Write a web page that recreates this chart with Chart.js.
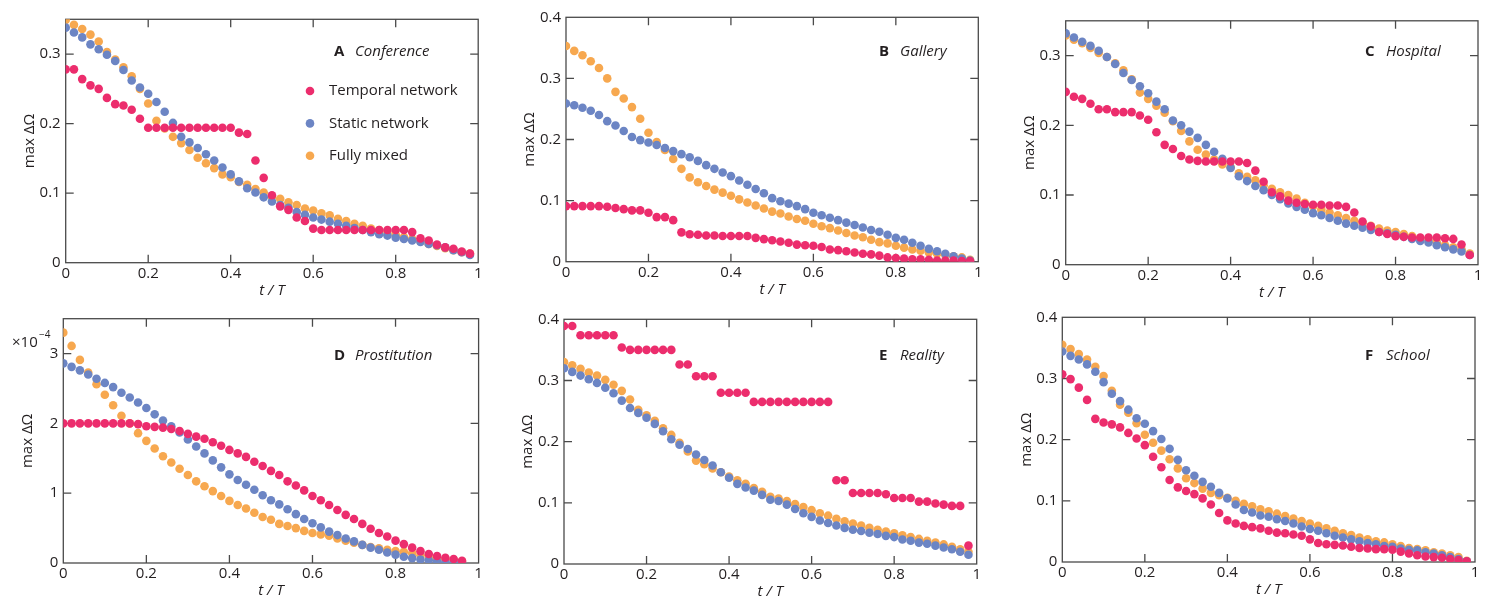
<!DOCTYPE html>
<html>
<head>
<meta charset="utf-8">
<script src="https://cdn.jsdelivr.net/npm/chart.js@4.4.1/dist/chart.umd.min.js"></script>
<style>
  html, body { margin: 0; padding: 0; background: #fff; }
  #page { position: relative; width: 1486px; height: 598px; overflow: hidden; }
  .panel { position: absolute; }
</style>
</head>
<body>
<div id="page"></div>
<script>
// t / T sample points
var tGrid = [0, 0.02, 0.04, 0.06, 0.08, 0.1, 0.12, 0.14, 0.16, 0.18,
  0.2, 0.22, 0.24, 0.26, 0.28, 0.3, 0.32, 0.34, 0.36, 0.38,
  0.4, 0.42, 0.44, 0.46, 0.48, 0.5, 0.52, 0.54, 0.56, 0.58,
  0.6, 0.62, 0.64, 0.66, 0.68, 0.7, 0.72, 0.74, 0.76, 0.78,
  0.8, 0.82, 0.84, 0.86, 0.88, 0.9, 0.92, 0.94, 0.96, 0.98];

var seriesNames = ["Temporal network", "Static network", "Fully mixed"];
var seriesColors = ["#ec2d6d", "#6c85c4", "#f7a84f"];

// A Conference
var conferenceTemporal = [.278, .278, .264, .255, .250, .237, .228, .226, .220, .207,
  .194, .194, .194, .194, .194, .194, .194, .194, .194, .194,
  .194, .187, .185, .147, .122, .097, .081, .076, .065, .060,
  .049, .047, .047, .047, .047, .047, .047, .047, .047, .047,
  .047, .047, .044, .035, .032, .026, .022, .020, .016, .013];
var conferenceStatic = [.338, .331, .324, .314, .307, .299, .290, .277, .262, .252,
  .243, .231, .217, .201, .181, .173, .165, .156, .147, .137,
  .127, .117, .107, .101, .094, .088, .083, .079, .073, .069,
  .065, .062, .059, .056, .053, .050, .047, .044, .041, .039,
  .036, .034, .032, .030, .027, .025, .022, .018, .015, .011];
var conferenceMixed = [.349, .342, .336, .328, .318, .303, .292, .281, .268, .250,
  .229, .204, .193, .181, .172, .162, .151, .143, .136, .127,
  .123, .116, .112, .106, .101, .095, .092, .087, .083, .078,
  .075, .071, .068, .063, .060, .056, .053, .049, .047, .043,
  .040, .037, .034, .031, .027, .024, .021, .018, .015, .013];

// B Gallery
var galleryTemporal = [.091, .091, .091, .091, .091, .090, .088, .086, .084, .084,
  .080, .073, .073, .068, .048, .045, .044, .043, .043, .042,
  .042, .042, .042, .039, .037, .035, .033, .031, .028, .027,
  .026, .024, .020, .019, .017, .015, .013, .012, .010, .007,
  .006, .005, .004, .004, .003, .002, .002, .002, .001, .001];
var galleryStatic = [.259, .256, .252, .247, .240, .230, .223, .214, .204, .199,
  .195, .191, .186, .181, .176, .171, .165, .158, .152, .146,
  .140, .133, .126, .119, .112, .104, .099, .095, .091, .086,
  .080, .076, .072, .068, .064, .060, .056, .052, .049, .044,
  .039, .036, .031, .026, .021, .017, .013, .009, .005, .002];
var galleryMixed = [.353, .345, .338, .328, .317, .300, .278, .267, .253, .234,
  .211, .196, .183, .168, .152, .138, .130, .124, .118, .113,
  .108, .102, .097, .092, .087, .082, .079, .074, .070, .067,
  .062, .058, .055, .051, .047, .043, .040, .036, .032, .030,
  .026, .023, .020, .018, .015, .013, .011, .009, .007, .003];

// C Hospital
var hospitalTemporal = [.248, .241, .238, .231, .223, .223, .219, .219, .219, .214,
  .208, .190, .172, .166, .156, .151, .149, .148, .148, .148,
  .148, .148, .146, .135, .119, .104, .098, .092, .089, .087,
  .086, .086, .085, .085, .083, .075, .062, .055, .047, .044,
  .041, .040, .039, .039, .039, .039, .038, .037, .029, .014];
var hospitalStatic = [.332, .326, .320, .314, .307, .298, .288, .275, .265, .256,
  .246, .234, .223, .207, .200, .191, .182, .172, .162, .152,
  .139, .127, .120, .113, .107, .100, .094, .088, .083, .079,
  .074, .071, .067, .063, .059, .056, .053, .050, .047, .045,
  .043, .040, .037, .034, .032, .028, .025, .022, .019, .014];
var hospitalMixed = [.329, .323, .318, .311, .304, .298, .289, .279, .266, .247,
  .238, .228, .218, .206, .192, .177, .165, .158, .151, .144,
  .140, .131, .126, .121, .114, .109, .104, .100, .095, .089,
  .084, .079, .075, .071, .067, .063, .059, .056, .052, .049,
  .047, .044, .041, .038, .035, .032, .028, .025, .022, .016];

// D Prostitution (values in units of 1e-4, t/T up to 0.96)
var prostitutionTemporal = [2.00, 2.00, 2.00, 2.00, 2.00, 2.00, 2.00, 2.00, 2.00, 1.99,
  1.96, 1.95, 1.94, 1.92, 1.89, 1.85, 1.81, 1.78, 1.73, 1.68,
  1.62, 1.57, 1.52, 1.45, 1.39, 1.32, 1.26, 1.17, 1.11, 1.04,
  0.96, 0.90, 0.83, 0.76, 0.69, 0.63, 0.56, 0.49, 0.43, 0.38,
  0.32, 0.27, 0.22, 0.17, 0.13, 0.10, 0.076, 0.057, 0.033];
var prostitutionStatic = [2.86, 2.81, 2.76, 2.70, 2.64, 2.58, 2.52, 2.44, 2.37, 2.30,
  2.22, 2.13, 2.04, 1.96, 1.87, 1.77, 1.67, 1.57, 1.47, 1.37,
  1.27, 1.19, 1.12, 1.05, 0.97, 0.90, 0.84, 0.77, 0.70, 0.63,
  0.57, 0.51, 0.45, 0.40, 0.35, 0.31, 0.26, 0.22, 0.19, 0.15,
  0.12, 0.09, 0.07, 0.05, 0.04, 0.024, 0.014, 0.010, 0.005];
var prostitutionMixed = [3.30, 3.11, 2.91, 2.73, 2.56, 2.41, 2.26, 2.11, 2.00, 1.86,
  1.75, 1.64, 1.53, 1.44, 1.35, 1.26, 1.17, 1.10, 1.03, 0.96,
  0.89, 0.83, 0.78, 0.72, 0.66, 0.62, 0.56, 0.53, 0.50, 0.46,
  0.43, 0.41, 0.39, 0.35, 0.32, 0.29, 0.26, 0.23, 0.21, 0.19,
  0.17, 0.16, 0.14, 0.11, 0.08, 0.06, 0.05, 0.04, 0.024];

// E Reality
var realityTemporal = [.389, .389, .374, .374, .374, .374, .374, .354, .350, .350,
  .350, .350, .350, .350, .326, .326, .307, .307, .307, .280,
  .280, .280, .280, .265, .265, .265, .265, .265, .265, .265,
  .265, .265, .265, .137, .137, .116, .116, .116, .116, .114,
  .108, .108, .108, .102, .102, .099, .097, .095, .095, .030];
var realityStatic = [.320, .314, .308, .302, .296, .288, .279, .267, .255, .247,
  .239, .229, .217, .204, .195, .188, .179, .170, .161, .150,
  .141, .131, .125, .120, .113, .105, .103, .097, .090, .083,
  .077, .071, .067, .063, .059, .056, .054, .051, .049, .046,
  .044, .040, .038, .035, .033, .030, .027, .024, .020, .015];
var realityMixed = [.330, .325, .319, .313, .308, .301, .293, .283, .269, .252,
  .243, .234, .222, .211, .198, .184, .169, .163, .156, .150,
  .143, .137, .131, .124, .118, .110, .107, .103, .098, .093,
  .088, .083, .079, .074, .070, .066, .063, .059, .056, .053,
  .050, .047, .044, .041, .038, .035, .032, .028, .024, .020];

// F School
var schoolTemporal = [.307, .299, .285, .265, .234, .228, .225, .220, .211, .202,
  .191, .172, .155, .134, .122, .116, .111, .104, .094, .080,
  .068, .063, .059, .057, .055, .051, .048, .047, .045, .043,
  .037, .031, .029, .028, .027, .025, .023, .022, .021, .021,
  .020, .017, .014, .011, .009, .008, .007, .005, .003, .001];
var schoolStatic = [.344, .337, .331, .323, .311, .294, .275, .263, .249, .235,
  .226, .214, .201, .185, .167, .150, .141, .131, .123, .113,
  .104, .094, .085, .081, .076, .074, .070, .067, .063, .058,
  .054, .051, .047, .043, .040, .037, .034, .031, .029, .026,
  .025, .022, .020, .019, .016, .014, .011, .008, .005, .001];
var schoolMixed = [.355, .348, .340, .331, .319, .304, .280, .257, .244, .227,
  .208, .195, .182, .168, .153, .137, .129, .120, .113, .109,
  .105, .100, .095, .091, .086, .083, .079, .075, .071, .067,
  .063, .059, .055, .051, .047, .044, .040, .037, .034, .032,
  .029, .026, .023, .021, .019, .016, .014, .011, .008, .002];

// panel frames in page pixels: [left, top, right, bottom]
var panels = [
  { letter: "A", name: "Conference", box: [65.7, 19.3, 478.2, 262.7], yMax: 0.35,
    series: [conferenceTemporal, conferenceStatic, conferenceMixed], legend: true, labelAt: [334, 51.5] },
  { letter: "B", name: "Gallery", box: [566, 17.3, 978.3, 261.7], yMax: 0.4,
    series: [galleryTemporal, galleryStatic, galleryMixed], labelAt: [879, 52] },
  { letter: "C", name: "Hospital", box: [1065.7, 20.8, 1478, 264.7], yMax: 0.35,
    series: [hospitalTemporal, hospitalStatic, hospitalMixed], labelAt: [1365, 52] },
  { letter: "D", name: "Prostitution", box: [63.3, 318.7, 478.6, 563], yMax: 3.5,
    series: [prostitutionTemporal, prostitutionStatic, prostitutionMixed], exponent: true, labelAt: [334, 356] },
  { letter: "E", name: "Reality", box: [564, 319.3, 976.7, 564], yMax: 0.4,
    series: [realityTemporal, realityStatic, realityMixed], labelAt: [879, 356] },
  { letter: "F", name: "School", box: [1062.3, 317.3, 1475, 562], yMax: 0.4,
    series: [schoolTemporal, schoolStatic, schoolMixed], labelAt: [1365, 356] }
];

var fontFamily = "'Open Sans', sans-serif";
var fontSize = 15;
var textColor = "#231f20";
var frameColor = "#4a4a4a";

function tickText(v) {
  return String(Math.round(v * 100) / 100);
}

var decor = {
  id: "decor",
  beforeDatasetsDraw: function (chart) {
    var ctx = chart.ctx, a = chart.chartArea;
    var xs = chart.scales.x, ys = chart.scales.y;
    var len = 8;
    ctx.save();
    ctx.strokeStyle = frameColor;
    ctx.lineWidth = 1.3;
    ctx.strokeRect(a.left, a.top, a.right - a.left, a.bottom - a.top);
    ctx.beginPath();
    xs.ticks.forEach(function (t) {
      if (t.value <= xs.min || t.value >= xs.max) return;
      var px = xs.getPixelForValue(t.value);
      ctx.moveTo(px, a.bottom); ctx.lineTo(px, a.bottom - len);
      ctx.moveTo(px, a.top); ctx.lineTo(px, a.top + len);
    });
    ys.ticks.forEach(function (t) {
      if (t.value <= ys.min || t.value >= ys.max) return;
      var py = ys.getPixelForValue(t.value);
      ctx.moveTo(a.left, py); ctx.lineTo(a.left + len, py);
      ctx.moveTo(a.right, py); ctx.lineTo(a.right - len, py);
    });
    ctx.stroke();
    ctx.restore();
  },
  afterDatasetsDraw: function (chart, args, opts) {
    var ctx = chart.ctx, p = opts.panel;
    var ox = opts.left, oy = opts.top;
    ctx.save();
    ctx.fillStyle = textColor;
    ctx.textBaseline = "middle";
    ctx.textAlign = "left";
    var lx = p.labelAt[0] - ox, ly = p.labelAt[1] - oy;
    ctx.font = "bold " + fontSize + "px " + fontFamily;
    ctx.fillText(p.letter, lx, ly);
    ctx.font = "italic " + fontSize + "px " + fontFamily;
    ctx.fillText(p.name, lx + 21, ly);
    if (p.legend) {
      ctx.font = fontSize + "px " + fontFamily;
      chart.data.datasets.forEach(function (ds, i) {
        var y = 91 + i * 32.4 - oy;
        ctx.fillStyle = ds.backgroundColor;
        ctx.beginPath();
        ctx.arc(310 - ox, y, 4.3, 0, Math.PI * 2);
        ctx.fill();
        ctx.fillStyle = textColor;
        ctx.fillText(ds.label, 329 - ox, y);
      });
    }
    if (p.exponent) {
      ctx.font = fontSize + "px " + fontFamily;
      ctx.fillText("\u00d710", 12 - ox, 343 - oy);
      ctx.font = "10px " + fontFamily;
      ctx.fillText("\u22124", 39 - ox, 335 - oy);
    }
    ctx.restore();
  }
};

var page = document.getElementById("page");

panels.forEach(function (p) {
  var L = p.box[0], T = p.box[1], R = p.box[2], B = p.box[3];
  var cl = Math.floor(L - 70), ct = Math.floor(T - 20);
  var w = Math.ceil(R + 20) - cl, h = Math.ceil(B + 42) - ct;
  var yW = L - cl, xH = 40;
  var lh = fontSize * 1.2 / 2;
  var div = document.createElement("div");
  div.className = "panel";
  div.style.left = cl + "px";
  div.style.top = ct + "px";
  div.style.width = w + "px";
  div.style.height = h + "px";
  var canvas = document.createElement("canvas");
  div.appendChild(canvas);
  page.appendChild(div);

  var datasets = p.series.map(function (vals, i) {
    return {
      label: seriesNames[i],
      data: vals.map(function (v, k) { return { x: tGrid[k], y: v }; }),
      backgroundColor: seriesColors[i],
      borderWidth: 0,
      pointRadius: 4.3,
      pointHoverRadius: 4.3,
      showLine: false
    };
  });

  new Chart(canvas, {
    type: "scatter",
    data: { datasets: datasets },
    options: {
      responsive: true,
      maintainAspectRatio: false,
      animation: false,
      events: [],
      layout: { padding: { left: 0, top: T - ct, right: cl + w - R, bottom: ct + h - B - xH } },
      plugins: {
        legend: { display: false },
        tooltip: { enabled: false },
        decor: { panel: p, left: cl, top: ct }
      },
      scales: {
        x: {
          type: "linear", min: 0, max: 1,
          grid: { display: false, drawTicks: false },
          border: { display: false },
          ticks: { stepSize: 0.2, padding: 2, color: textColor, callback: tickText,
            font: { family: fontFamily, size: fontSize } },
          title: { display: true, text: "t / T", color: textColor, padding: { top: 0, bottom: xH - 28 - lh },
            font: { family: fontFamily, size: fontSize, style: "italic" } },
          afterFit: function (s) { s.height = xH; }
        },
        y: {
          type: "linear", min: 0, max: p.yMax,
          grid: { display: false, drawTicks: false },
          border: { display: false },
          ticks: { stepSize: p.yMax > 1 ? 1 : 0.1, includeBounds: false, padding: 5, color: textColor,
            callback: tickText, font: { family: fontFamily, size: fontSize } },
          title: { display: true, text: "max \u0394\u03a9", color: textColor,
            padding: { top: yW - 36 - lh, bottom: 0 },
            font: { family: fontFamily, size: fontSize } },
          afterFit: function (s) { s.width = yW; }
        }
      }
    },
    plugins: [decor]
  });
});
</script>
</body>
</html>
